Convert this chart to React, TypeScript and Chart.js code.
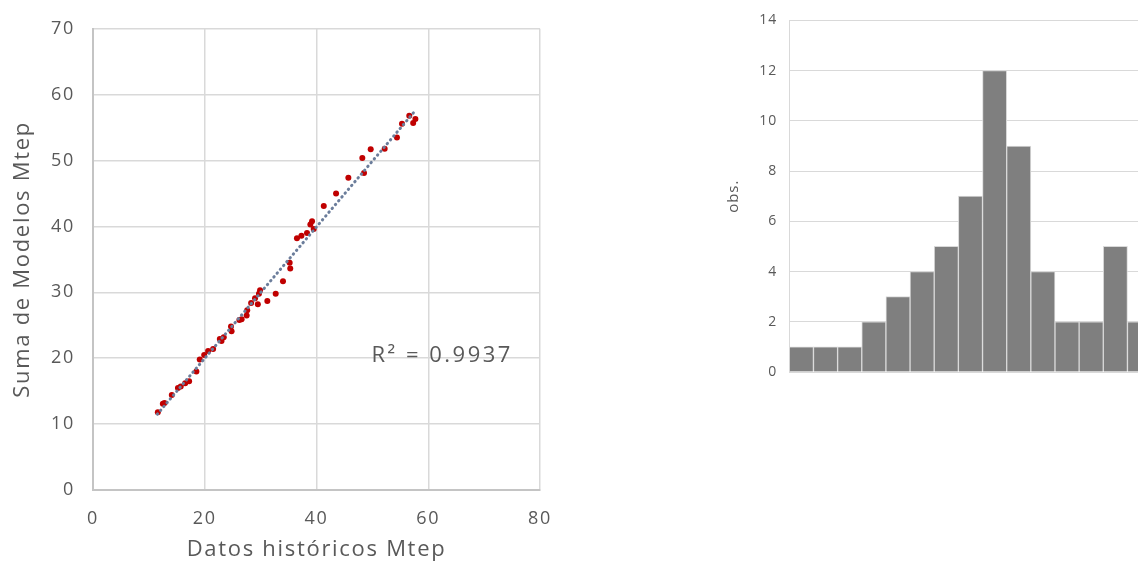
import React, { useEffect, useRef } from 'react';
import { Chart, registerables } from 'chart.js';

Chart.register(...registerables);
Chart.defaults.font.family = '"Open Sans", Lato, sans-serif';

// ---- Scatter: historical data vs. sum of models (Mtep) ----
const histX = [
  11.6, 12.5, 12.8, 14.1, 15.2, 15.7, 16.5, 17.2, 18.5, 19.1, 19.9, 20.6, 21.5,
  22.7, 23.0, 23.4, 24.7, 24.8, 26.2, 26.6, 27.5, 27.6, 28.3, 29.0, 29.5, 29.9,
  29.7, 31.2, 32.7, 34.0, 35.2, 35.3, 36.5, 37.3, 38.3, 38.9, 39.2, 39.5, 41.3,
  43.5, 45.7, 48.2, 48.5, 49.7, 52.2, 54.4, 55.3, 56.6, 57.3, 57.7,
];
const modelY = [
  11.8, 13.1, 13.2, 14.4, 15.5, 15.7, 16.2, 16.5, 18.0, 19.8, 20.5, 21.1, 21.4,
  22.9, 22.6, 23.2, 24.8, 24.1, 25.8, 25.9, 26.5, 27.3, 28.4, 29.1, 28.2, 30.3,
  29.8, 28.7, 29.8, 31.7, 34.5, 33.6, 38.2, 38.6, 39.0, 40.3, 40.8, 39.6, 43.1,
  45.0, 47.4, 50.4, 48.1, 51.7, 51.8, 53.5, 55.6, 56.8, 55.7, 56.3,
];
const trendX = [11.5, 57.5];
const trendY = [11.5, 57.4];
const r2Text = 'R\u00B2 = 0.9937';
const r2AnchorX = 62.5;
const r2AnchorY = 19.4;

// ---- Histogram ----
const histBins = ['1', '2', '3', '4', '5', '6', '7', '8', '9', '10', '11', '12', '13', '14', '15'];
const histCounts = [1, 1, 1, 2, 3, 4, 5, 7, 12, 9, 4, 2, 2, 5, 2];

const TEXT = '#595959';
const GRID = '#d9d9d9';
const FONT = '"Open Sans", Lato, sans-serif';

const spacingPlugin = (spacing: string) => ({
  id: 'letterSpacing',
  beforeUpdate(chart: any) {
    chart.ctx.letterSpacing = spacing;
  },
  beforeDraw(chart: any) {
    chart.ctx.letterSpacing = spacing;
  },
});

const r2Plugin = {
  id: 'r2Label',
  afterDatasetsDraw(chart: any) {
    const { ctx, scales } = chart;
    const px = scales.x.getPixelForValue(r2AnchorX);
    const py = scales.y.getPixelForValue(r2AnchorY);
    ctx.save();
    ctx.font = `22px ${FONT}`;
    ctx.letterSpacing = '2.5px';
    ctx.fillStyle = TEXT;
    ctx.textAlign = 'center';
    ctx.textBaseline = 'alphabetic';
    ctx.fillText(r2Text, px, py);
    ctx.restore();
  },
};

export default function App() {
  const scatterRef = useRef<HTMLCanvasElement>(null);
  const histRef = useRef<HTMLCanvasElement>(null);

  useEffect(() => {
    const scatter = new Chart(scatterRef.current as HTMLCanvasElement, {
      type: 'scatter',
      data: {
        datasets: [
          {
            type: 'line',
            data: trendX.map((x, i) => ({ x, y: trendY[i] })),
            borderColor: '#6b7d9b',
            borderWidth: 3,
            borderDash: [0.5, 4.5],
            borderCapStyle: 'round',
            pointRadius: 0,
            fill: false,
            tension: 0,
          } as any,
          {
            data: histX.map((x, i) => ({ x, y: modelY[i] })),
            backgroundColor: '#C00000',
            borderColor: '#C00000',
            borderWidth: 0,
            pointRadius: 3,
          },
        ],
      },
      options: {
        responsive: false,
        animation: false,
        layout: { padding: { left: 10, top: 27, right: 28, bottom: 0 } },
        plugins: { legend: { display: false }, tooltip: { enabled: false } },
        scales: {
          x: {
            type: 'linear',
            min: 0,
            max: 80,
            ticks: { stepSize: 20, padding: 18, color: TEXT, font: { size: 18 } },
            grid: { color: GRID, lineWidth: 1.5, drawTicks: false },
            border: { color: '#c4c4c4', width: 2 },
            title: {
              display: true,
              text: 'Datos históricos Mtep',
              color: TEXT,
              font: { size: 22 },
              padding: { top: 0, bottom: 1 },
            },
            afterFit(s: any) {
              s.height = 74;
            },
          },
          y: {
            type: 'linear',
            min: 0,
            max: 70,
            ticks: { stepSize: 10, padding: 18, color: TEXT, font: { size: 18 } },
            grid: { color: GRID, lineWidth: 1.5, drawTicks: false },
            border: { color: '#c4c4c4', width: 2 },
            title: {
              display: true,
              text: 'Suma de Modelos Mtep',
              color: TEXT,
              font: { size: 22 },
              padding: { top: 0, bottom: 0 },
            },
            afterFit(s: any) {
              s.width = 83;
            },
          },
        },
      },
      plugins: [spacingPlugin('1.7px'), r2Plugin],
    });

    const hist = new Chart(histRef.current as HTMLCanvasElement, {
      type: 'bar',
      data: {
        labels: histBins,
        datasets: [
          {
            data: histCounts,
            backgroundColor: '#7f7f7f',
            borderColor: '#d9d9d9',
            borderWidth: 1,
            barPercentage: 1,
            categoryPercentage: 1,
          },
        ],
      },
      options: {
        responsive: false,
        animation: false,
        layout: { padding: { left: 25, top: 20, right: 4.4, bottom: 192 } },
        plugins: { legend: { display: false }, tooltip: { enabled: false } },
        scales: {
          x: {
            ticks: { display: false },
            grid: { display: false, drawTicks: false },
            border: { display: false },
            afterFit(s: any) {
              s.height = 0;
            },
          },
          y: {
            min: 0,
            max: 14,
            ticks: { stepSize: 2, padding: 12, color: TEXT, font: { size: 14 } },
            grid: { color: GRID, lineWidth: 1, drawTicks: false },
            border: { color: GRID, width: 1 },
            title: {
              display: true,
              text: 'obs.',
              color: TEXT,
              font: { size: 15 },
              padding: 0,
            },
            afterFit(s: any) {
              s.width = 64.3;
            },
          },
        },
      },
      plugins: [spacingPlugin('1px')],
    });

    return () => {
      scatter.destroy();
      hist.destroy();
    };
  }, []);

  return (
    <div
      style={{
        position: 'fixed',
        left: 0,
        top: 0,
        width: 1138,
        height: 564,
        overflow: 'hidden',
        background: '#ffffff',
      }}
    >
      <canvas
        ref={scatterRef}
        width={570}
        height={564}
        style={{ position: 'absolute', left: 0, top: 0, width: 570, height: 564, display: 'block' }}
      />
      <canvas
        ref={histRef}
        width={456}
        height={564}
        style={{ position: 'absolute', left: 700, top: 0, width: 456, height: 564, display: 'block' }}
      />
    </div>
  );
}
